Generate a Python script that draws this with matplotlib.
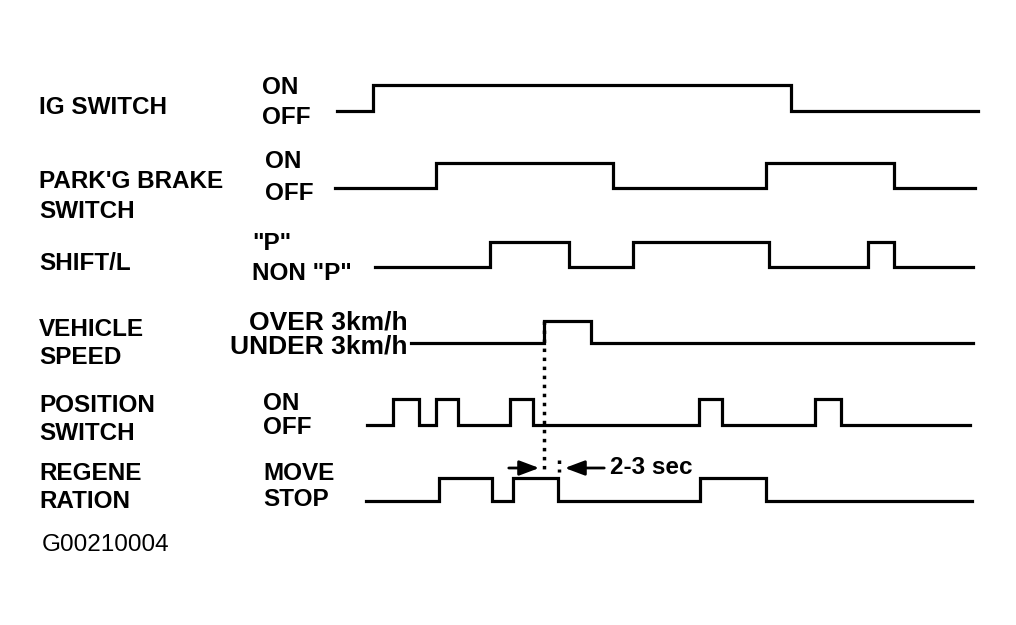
import matplotlib
matplotlib.use("Agg")
import matplotlib.pyplot as plt

plt.rcParams['font.family'] = ['Liberation Sans', 'DejaVu Sans']

# signal names (left column) and their two states
names = [["IG SWITCH"], ["PARK'G BRAKE", "SWITCH"], ["SHIFT/L"], ["VEHICLE", "SPEED"],
         ["POSITION", "SWITCH"], ["REGENE", "RATION"]]
high_states = ["ON", "ON", '"P"', "OVER 3km/h", "ON", "MOVE"]
low_states = ["OFF", "OFF", 'NON "P"', "UNDER 3km/h", "OFF", "STOP"]

# time axis: start, transitions, end (signal starts low)
ig_switch = [337, 373, 791, 978]
park_brake = [335, 436, 613, 766, 894, 975]
shift_l = [375, 490, 569, 633, 769, 868, 894, 973]
vehicle_speed = [411, 544, 591, 973]
position_sw = [367, 393, 419, 436, 458, 510, 533, 699, 722, 815, 841, 970]
regeneration = [366, 439, 492, 513, 558, 700, 766, 972]
signals = [ig_switch, park_brake, shift_l, vehicle_speed, position_sw, regeneration]

# row placement (low / high line level)
row_low = [111, 188, 267, 343, 425, 501]
row_high = [85, 163, 242, 321, 399, 478]

fig = plt.figure(figsize=(10.16, 6.25), dpi=100)
ax = fig.add_axes([0, 0, 1, 1])
ax.set_xlim(0, 1016)
ax.set_ylim(625, 0)
ax.axis("off")

for sig, lo, hi in zip(signals, row_low, row_high):
    levels = [(i % 2) for i in range(len(sig) - 1)]
    ys = [lo - lv * (lo - hi) for lv in levels]
    ys.append(ys[-1])
    ax.step(sig, ys, where="post", color="black", lw=2.3,
            solid_joinstyle="miter")

# left labels, one line at a time
name_y = [[107], [182, 211], [263], [330, 358], [405, 433], [473, 502]]
for lines, ys in zip(names, name_y):
    for txt, y in zip(lines, ys):
        ax.text(39, y, txt, fontsize=17.5, fontweight="bold", va="center", ha="left")

# state labels
state_x = [262, 265, 252, 408, 263, 263]
high_y = [87, 162, 243, 322, 403, 474]
low_y = [117, 193, 273, 347, 427, 500]
for i in range(len(names)):
    ha = "right" if i == 3 else "left"
    fs = 19 if i == 3 else 17.5
    ax.text(state_x[i], high_y[i], high_states[i], fontsize=fs, fontweight="bold",
            va="center", ha=ha)
    ax.text(state_x[i], low_y[i], low_states[i], fontsize=fs, fontweight="bold",
            va="center", ha=ha)

# timing marker between vehicle speed rise and regeneration stop
ax.plot([544, 544], [row_high[3], 473], color="black", lw=2.5, ls=(0, (1, 1.6)))
ax.plot([559, 559], [460, 472], color="black", lw=2.5, ls=(0, (1, 1.6)))
ax.annotate("", xy=(542, 468), xytext=(506, 468),
            arrowprops=dict(arrowstyle="-|>,head_length=1.2,head_width=0.45",
                            color="black", lw=2))
ax.annotate("", xy=(562, 468), xytext=(607, 468),
            arrowprops=dict(arrowstyle="-|>,head_length=1.2,head_width=0.45",
                            color="black", lw=2))
ax.text(610, 467, "2-3 sec", fontsize=17.5, fontweight="bold", va="center", ha="left")

ax.text(42, 545, "G00210004", fontsize=17.5, va="center", ha="left")

fig.savefig("out.png", dpi=100, facecolor="white")
